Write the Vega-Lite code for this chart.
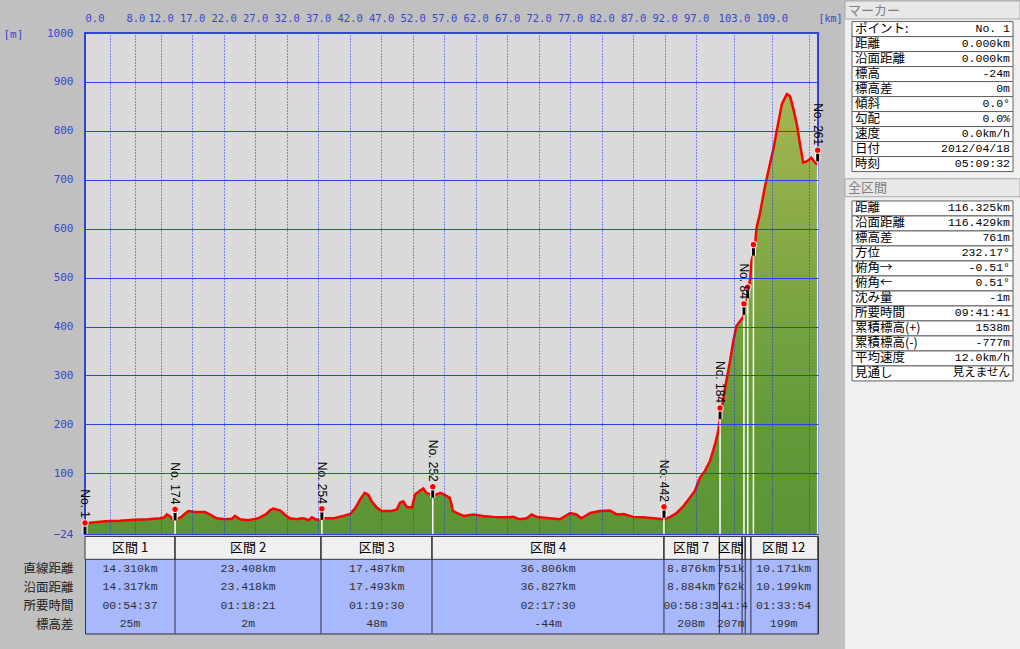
{
  "$schema": "https://vega.github.io/schema/vega-lite/v6.json",
  "background": "#c0c0c0",
  "padding": {"left": 2, "top": 0, "right": 0, "bottom": 0},
  "datasets": {
    "profile": [
      {"d":0,"e":-8},{"d":0.3,"e":-2},{"d":0.8,"e":-1},{"d":3.2,"e":2},{"d":5.5,"e":3},{"d":7.9,"e":5},{"d":10.0,"e":6},{"d":11.9,"e":8},{"d":12.6,"e":10},{"d":13.0,"e":16},{"d":13.5,"e":12},{"d":13.8,"e":8},{"d":14.3,"e":5},{"d":15.3,"e":11},{"d":15.9,"e":18},{"d":16.4,"e":23},{"d":17.5,"e":21},{"d":19.0,"e":21},{"d":19.8,"e":16},{"d":20.9,"e":8},{"d":22.2,"e":6},{"d":23.3,"e":7},{"d":23.8,"e":13},{"d":24.6,"e":6},{"d":25.9,"e":4},{"d":27.5,"e":8},{"d":28.8,"e":17},{"d":29.4,"e":25},{"d":29.9,"e":28},{"d":31.0,"e":24},{"d":31.7,"e":16},{"d":32.5,"e":8},{"d":33.6,"e":6},{"d":34.4,"e":8},{"d":35.0,"e":7},{"d":35.5,"e":4},{"d":36.0,"e":10},{"d":36.8,"e":5},{"d":37.8,"e":8},{"d":39.4,"e":8},{"d":41.0,"e":13},{"d":42.1,"e":17},{"d":42.9,"e":29},{"d":43.7,"e":47},{"d":44.4,"e":60},{"d":45.0,"e":56},{"d":45.5,"e":43},{"d":46.3,"e":30},{"d":47.1,"e":23},{"d":48.7,"e":23},{"d":49.5,"e":26},{"d":50.0,"e":40},{"d":50.5,"e":43},{"d":51.1,"e":31},{"d":51.9,"e":30},{"d":52.4,"e":57},{"d":53.2,"e":65},{"d":53.7,"e":69},{"d":54.2,"e":60},{"d":54.8,"e":57},{"d":55.2,"e":54},{"d":55.8,"e":57},{"d":56.4,"e":60},{"d":57.1,"e":56},{"d":57.9,"e":50},{"d":58.2,"e":35},{"d":58.4,"e":23},{"d":59.0,"e":19},{"d":60.1,"e":13},{"d":61.6,"e":16},{"d":63.2,"e":13},{"d":64.8,"e":11},{"d":66.4,"e":10},{"d":68.0,"e":11},{"d":69.0,"e":6},{"d":70.1,"e":8},{"d":70.9,"e":16},{"d":71.7,"e":11},{"d":73.8,"e":8},{"d":75.4,"e":6},{"d":77.0,"e":19},{"d":78.0,"e":16},{"d":78.8,"e":8},{"d":80.2,"e":19},{"d":81.7,"e":23},{"d":83.3,"e":24},{"d":84.4,"e":16},{"d":85.5,"e":17},{"d":87.0,"e":11},{"d":88.6,"e":10},{"d":90.2,"e":8},{"d":91.8,"e":6},{"d":92.9,"e":11},{"d":93.9,"e":19},{"d":95.0,"e":33},{"d":96.0,"e":50},{"d":96.8,"e":64},{"d":97.6,"e":91},{"d":98.4,"e":105},{"d":99.2,"e":125},{"d":100.0,"e":159},{"d":100.5,"e":186},{"d":100.8,"e":211},{"d":101.6,"e":275},{"d":102.4,"e":330},{"d":102.9,"e":370},{"d":103.4,"e":401},{"d":104.5,"e":420},{"d":105.0,"e":452},{"d":105.6,"e":500},{"d":105.8,"e":534},{"d":106.3,"e":561},{"d":106.6,"e":602},{"d":107.1,"e":629},{"d":107.9,"e":684},{"d":108.7,"e":731},{"d":109.3,"e":765},{"d":109.8,"e":800},{"d":110.6,"e":854},{"d":111.4,"e":875},{"d":111.9,"e":871},{"d":112.4,"e":847},{"d":113.0,"e":813},{"d":113.5,"e":772},{"d":114.0,"e":735},{"d":114.6,"e":738},{"d":115.3,"e":745},{"d":115.9,"e":735},{"d":116.3,"e":731}
    ],
    "markers": [
      {"d":0,"e":-24,"label":"No. 1"},
      {"d":14.3,"e":4,"label":"No. 174"},
      {"d":37.6,"e":5,"label":"No. 254"},
      {"d":55.2,"e":50,"label":"No. 252"},
      {"d":91.9,"e":9,"label":"No. 442"},
      {"d":100.8,"e":211,"label":"No. 184"},
      {"d":104.6,"e":424,"label":"No. 84"},
      {"d":105.2,"e":458,"label":""},
      {"d":106.1,"e":545,"label":""},
      {"d":116.3,"e":738,"label":"No. 261"}
    ],
    "sections": [
      {"x0":0,"x1":14.29},{"x0":14.29,"x1":37.46},{"x0":37.46,"x1":55.08},{"x0":55.08,"x1":91.9},{"x0":91.9,"x1":100.7},{"x0":100.7,"x1":104.3},{"x0":104.3,"x1":104.8},{"x0":104.8,"x1":105.7},{"x0":105.7,"x1":116.35}
    ],
    "rows": [
      {"row":"区間","y0":0,"y1":1.23,"yc":0.62},
      {"row":"直線距離","y0":1.23,"y1":2.23,"yc":1.73},
      {"row":"沿面距離","y0":2.23,"y1":3.23,"yc":2.73},
      {"row":"所要時間","y0":3.23,"y1":4.23,"yc":3.73},
      {"row":"標高差","y0":4.23,"y1":5.23,"yc":4.73}
    ],
    "cells": [
      {"x0":0,"x1":14.29,"xm":7.15,"row":"区間","t":"区間 1"},
      {"x0":0,"x1":14.29,"xm":7.15,"row":"直線距離","t":"14.310km"},
      {"x0":0,"x1":14.29,"xm":7.15,"row":"沿面距離","t":"14.317km"},
      {"x0":0,"x1":14.29,"xm":7.15,"row":"所要時間","t":"00:54:37"},
      {"x0":0,"x1":14.29,"xm":7.15,"row":"標高差","t":"25m"},
      {"x0":14.29,"x1":37.46,"xm":25.9,"row":"区間","t":"区間 2"},
      {"x0":14.29,"x1":37.46,"xm":25.9,"row":"直線距離","t":"23.408km"},
      {"x0":14.29,"x1":37.46,"xm":25.9,"row":"沿面距離","t":"23.418km"},
      {"x0":14.29,"x1":37.46,"xm":25.9,"row":"所要時間","t":"01:18:21"},
      {"x0":14.29,"x1":37.46,"xm":25.9,"row":"標高差","t":"2m"},
      {"x0":37.46,"x1":55.08,"xm":46.3,"row":"区間","t":"区間 3"},
      {"x0":37.46,"x1":55.08,"xm":46.3,"row":"直線距離","t":"17.487km"},
      {"x0":37.46,"x1":55.08,"xm":46.3,"row":"沿面距離","t":"17.493km"},
      {"x0":37.46,"x1":55.08,"xm":46.3,"row":"所要時間","t":"01:19:30"},
      {"x0":37.46,"x1":55.08,"xm":46.3,"row":"標高差","t":"48m"},
      {"x0":55.08,"x1":91.9,"xm":73.5,"row":"区間","t":"区間 4"},
      {"x0":55.08,"x1":91.9,"xm":73.5,"row":"直線距離","t":"36.806km"},
      {"x0":55.08,"x1":91.9,"xm":73.5,"row":"沿面距離","t":"36.827km"},
      {"x0":55.08,"x1":91.9,"xm":73.5,"row":"所要時間","t":"02:17:30"},
      {"x0":55.08,"x1":91.9,"xm":73.5,"row":"標高差","t":"-44m"},
      {"x0":91.9,"x1":100.7,"xm":96.2,"row":"区間","t":"区間 7"},
      {"x0":91.9,"x1":100.7,"xm":96.2,"row":"直線距離","t":"8.876km"},
      {"x0":91.9,"x1":100.7,"xm":96.2,"row":"沿面距離","t":"8.884km"},
      {"x0":91.9,"x1":100.7,"xm":96.2,"row":"所要時間","t":"00:58:35"},
      {"x0":91.9,"x1":100.7,"xm":96.2,"row":"標高差","t":"208m"},
      {"x0":100.7,"x1":104.3,"xm":102.5,"row":"区間","t":"区間"},
      {"x0":100.7,"x1":104.3,"xm":102.5,"row":"直線距離","t":"751k"},
      {"x0":100.7,"x1":104.3,"xm":102.5,"row":"沿面距離","t":"762k"},
      {"x0":100.7,"x1":104.3,"xm":102.5,"row":"所要時間","t":":41:4"},
      {"x0":100.7,"x1":104.3,"xm":102.5,"row":"標高差","t":"207m"},
      {"x0":104.3,"x1":104.8,"xm":104.55,"row":"区間","t":""},
      {"x0":104.8,"x1":105.7,"xm":105.25,"row":"区間","t":""},
      {"x0":105.7,"x1":116.35,"xm":110.9,"row":"区間","t":"区間 12"},
      {"x0":105.7,"x1":116.35,"xm":110.9,"row":"直線距離","t":"10.171km"},
      {"x0":105.7,"x1":116.35,"xm":110.9,"row":"沿面距離","t":"10.199km"},
      {"x0":105.7,"x1":116.35,"xm":110.9,"row":"所要時間","t":"01:33:54"},
      {"x0":105.7,"x1":116.35,"xm":110.9,"row":"標高差","t":"199m"}
    ],
    "bg": [
      {"y0":0,"y1":2.3}
    ],
    "bars": [
      {"y0":0,"y1":1.2,"yc":0.65,"t":"マーカー"},
      {"y0":11.85,"y1":13.05,"yc":12.48,"t":"全区間"}
    ],
    "panel": [
      {"xa":0.04,"xb":0.96,"y0":1.37,"y1":2.37,"yc":1.87,"k":"ポイント:","v":"No. 1"},
      {"xa":0.04,"xb":0.96,"y0":2.37,"y1":3.37,"yc":2.87,"k":"距離","v":"0.000km"},
      {"xa":0.04,"xb":0.96,"y0":3.37,"y1":4.37,"yc":3.87,"k":"沿面距離","v":"0.000km"},
      {"xa":0.04,"xb":0.96,"y0":4.37,"y1":5.37,"yc":4.87,"k":"標高","v":"-24m"},
      {"xa":0.04,"xb":0.96,"y0":5.37,"y1":6.37,"yc":5.87,"k":"標高差","v":"0m"},
      {"xa":0.04,"xb":0.96,"y0":6.37,"y1":7.37,"yc":6.87,"k":"傾斜","v":"0.0°"},
      {"xa":0.04,"xb":0.96,"y0":7.37,"y1":8.37,"yc":7.87,"k":"勾配","v":"0.0%"},
      {"xa":0.04,"xb":0.96,"y0":8.37,"y1":9.37,"yc":8.87,"k":"速度","v":"0.0km/h"},
      {"xa":0.04,"xb":0.96,"y0":9.37,"y1":10.37,"yc":9.87,"k":"日付","v":"2012/04/18"},
      {"xa":0.04,"xb":0.96,"y0":10.37,"y1":11.37,"yc":10.87,"k":"時刻","v":"05:09:32"},
      {"xa":0.04,"xb":0.96,"y0":13.33,"y1":14.33,"yc":13.83,"k":"距離","v":"116.325km"},
      {"xa":0.04,"xb":0.96,"y0":14.33,"y1":15.33,"yc":14.83,"k":"沿面距離","v":"116.429km"},
      {"xa":0.04,"xb":0.96,"y0":15.33,"y1":16.33,"yc":15.83,"k":"標高差","v":"761m"},
      {"xa":0.04,"xb":0.96,"y0":16.33,"y1":17.33,"yc":16.83,"k":"方位","v":"232.17°"},
      {"xa":0.04,"xb":0.96,"y0":17.33,"y1":18.33,"yc":17.83,"k":"俯角→","v":"-0.51°"},
      {"xa":0.04,"xb":0.96,"y0":18.33,"y1":19.33,"yc":18.83,"k":"俯角←","v":"0.51°"},
      {"xa":0.04,"xb":0.96,"y0":19.33,"y1":20.33,"yc":19.83,"k":"沈み量","v":"-1m"},
      {"xa":0.04,"xb":0.96,"y0":20.33,"y1":21.33,"yc":20.83,"k":"所要時間","v":"09:41:41"},
      {"xa":0.04,"xb":0.96,"y0":21.33,"y1":22.33,"yc":21.83,"k":"累積標高(+)","v":"1538m"},
      {"xa":0.04,"xb":0.96,"y0":22.33,"y1":23.33,"yc":22.83,"k":"累積標高(-)","v":"-777m"},
      {"xa":0.04,"xb":0.96,"y0":23.33,"y1":24.33,"yc":23.83,"k":"平均速度","v":"12.0km/h"},
      {"xa":0.04,"xb":0.96,"y0":24.33,"y1":25.33,"yc":24.83,"k":"見通し","v":"見えません"}
    ]
  },
  "spacing": 0,
  "hconcat": [
    {
      "spacing": 2.5,
      "bounds": "flush",
      "vconcat": [
        {
          "width": 733,
          "height": 501,
          "view": {"fill": "#dadada", "stroke": "#3344dd", "strokeWidth": 2},
          "resolve": {"axis": {"x": "independent"}},
          "layer": [
            {
              "data": {"name": "profile"},
              "mark": {"type": "area", "color": {"gradient": "linear", "x1": 0, "y1": 1, "x2": 0, "y2": 0, "stops": [{"offset": 0, "color": "#5b9533"}, {"offset": 0.25, "color": "#639a39"}, {"offset": 1, "color": "#a3b651"}]}},
              "encoding": {
                "x": {"field": "d", "type": "quantitative", "scale": {"domain": [0, 116.35], "nice": false, "zero": false},
                  "axis": {"orient": "top", "values": [0,8,17,27,37,47,57,67,77,87,97,109], "format": ".1f", "labelFontSize": 10.5,
                    "grid": true, "gridDash": [1, 2], "gridColor": "#1a30f0", "gridWidth": 1, "ticks": false, "domain": false,
                    "labelPadding": 10, "labelFlush": true, "labelOverlap": false, "labelBound": false,
                    "title": "[km]", "titleFontSize": 10, "titleX": 733, "titleY": -15, "titleAlign": "left", "titleBaseline": "middle", "titleAngle": 0, "zindex": 1}},
                "y": {"field": "e", "type": "quantitative", "stack": null, "scale": {"domain": [-24, 1000], "nice": false, "zero": false},
                  "axis": {"values": [-24,100,200,300,400,500,600,700,800,900,1000], "format": "d", "grid": true, "gridColor": "#2a44e4", "gridWidth": 1,
                    "ticks": false, "domain": false, "labelPadding": 12, "labelOverlap": false, "labelFlush": false,
                    "title": "[m]", "titleAngle": 0, "titleX": -82, "titleY": 1, "titleAlign": "left", "titleBaseline": "middle", "zindex": 1}},
                "y2": {"value": "height"}
              }
            },
            {
              "data": {"name": "profile"},
              "mark": {"type": "line", "color": "#ff0000", "strokeWidth": 2.5},
              "encoding": {
                "x": {"field": "d", "type": "quantitative",
                  "axis": {"orient": "top", "values": [4,12,22,32,42,52,62,72,82,92,103,115], "labelFontSize": 10.5,
                    "labelExpr": "datum.value == 4 || datum.value == 115 ? '' : format(datum.value, '.1f')",
                    "grid": true, "gridDash": [1, 2], "gridColor": "#1a30f0", "gridWidth": 1, "ticks": false, "domain": false,
                    "labelPadding": 10, "labelFlush": false, "labelOverlap": false, "labelBound": false, "title": null, "zindex": 1}},
                "y": {"field": "e", "type": "quantitative"}
              }
            },
            {
              "data": {"name": "markers"},
              "mark": {"type": "rule", "color": "#ffffff", "strokeWidth": 1.5},
              "encoding": {"x": {"field": "d", "type": "quantitative", "axis": null}, "y": {"field": "e", "type": "quantitative"}, "y2": {"value": "height"}}
            },
            {
              "data": {"name": "markers"},
              "mark": {"type": "rule", "color": "#ffffff", "strokeWidth": 5, "y2Offset": -10},
              "encoding": {"x": {"field": "d", "type": "quantitative", "axis": null}, "y": {"field": "e", "type": "quantitative"}, "y2": {"field": "e"}}
            },
            {
              "data": {"name": "markers"},
              "mark": {"type": "rule", "color": "#000000", "strokeWidth": 3, "y2Offset": -10},
              "encoding": {"x": {"field": "d", "type": "quantitative", "axis": null}, "y": {"field": "e", "type": "quantitative"}, "y2": {"field": "e"}}
            },
            {
              "data": {"name": "markers"},
              "mark": {"type": "point", "filled": true, "color": "#ff0000", "stroke": "#ffffff", "strokeWidth": 1, "size": 45, "opacity": 1, "yOffset": -11},
              "encoding": {"x": {"field": "d", "type": "quantitative", "axis": null}, "y": {"field": "e", "type": "quantitative"}}
            },
            {
              "data": {"name": "markers"},
              "mark": {"type": "text", "angle": 90, "align": "right", "baseline": "middle", "yOffset": -16, "font": "Liberation Sans", "fontSize": 12, "color": "#000000"},
              "encoding": {"x": {"field": "d", "type": "quantitative", "axis": null}, "y": {"field": "e", "type": "quantitative"}, "text": {"field": "label", "type": "nominal"}}
            }
          ]
        },
        {
          "width": 733,
          "height": 97,
          "view": {"fill": "#a8b8fc", "stroke": "#303040", "strokeWidth": 1},
          "resolve": {"axis": {"y": "independent"}},
          "layer": [
            {
              "data": {"name": "cells"},
              "transform": [
                {"filter": "datum.row == '区間'"},
                {"lookup": "row", "from": {"data": {"name": "rows"}, "key": "row", "fields": ["y0", "y1", "yc"]}}
              ],
              "mark": {"type": "rect", "fill": "#f0f0f0", "stroke": "#3a3a3a", "strokeWidth": 1},
              "encoding": {
                "x": {"field": "x0", "type": "quantitative", "scale": {"domain": [0, 116.35], "nice": false, "zero": false}, "axis": null},
                "x2": {"field": "x1"},
                "y": {"field": "y0", "type": "quantitative", "scale": {"domain": [0, 5.23], "reverse": true, "nice": false, "zero": false},
                  "axis": {"orient": "left", "values": [1.73, 3.73], "labelExpr": "datum.value < 2 ? '直線距離' : '所要時間'",
                    "grid": false, "ticks": false, "domain": false, "labelPadding": 12, "labelOverlap": false,
                    "labelFont": "Noto Sans CJK JP", "labelFontSize": 12.5, "labelColor": "#202020", "title": null}},
                "y2": {"field": "y1"}
              }
            },
            {
              "data": {"name": "sections"},
              "mark": {"type": "rule", "color": "#303040", "strokeWidth": 1},
              "encoding": {"x": {"field": "x1", "type": "quantitative"}}
            },
            {
              "data": {"name": "cells"},
              "transform": [
                {"filter": "datum.row == '区間'"},
                {"lookup": "row", "from": {"data": {"name": "rows"}, "key": "row", "fields": ["yc"]}}
              ],
              "mark": {"type": "text", "font": "Noto Sans CJK JP", "fontSize": 13, "color": "#000000", "baseline": "middle"},
              "encoding": {
                "x": {"field": "xm", "type": "quantitative"},
                "y": {"field": "yc", "type": "quantitative",
                  "axis": {"orient": "left", "values": [2.73, 4.73], "labelExpr": "datum.value < 3 ? '沿面距離' : '標高差'",
                    "grid": false, "ticks": false, "domain": false, "labelPadding": 12, "labelOverlap": false,
                    "labelFont": "Noto Sans CJK JP", "labelFontSize": 12.5, "labelColor": "#202020", "title": null}},
                "text": {"field": "t", "type": "nominal"}
              }
            },
            {
              "data": {"name": "cells"},
              "transform": [
                {"filter": "datum.row != '区間'"},
                {"lookup": "row", "from": {"data": {"name": "rows"}, "key": "row", "fields": ["yc"]}}
              ],
              "mark": {"type": "text", "font": "'Liberation Mono', 'Noto Sans CJK JP'", "fontSize": 11.5, "color": "#303030", "baseline": "middle"},
              "encoding": {"x": {"field": "xm", "type": "quantitative"}, "y": {"field": "yc", "type": "quantitative", "axis": null}, "text": {"field": "t", "type": "nominal"}}
            }
          ]
        }
      ]
    },
    {
      "width": 175,
      "height": 617,
      "view": {"fill": "#f0f0f0", "stroke": null},
      "layer": [
        {
          "data": {"name": "panel"},
          "mark": {"type": "rect", "fill": "#ffffff", "stroke": "#606060", "strokeWidth": 1},
          "encoding": {
            "x": {"field": "xa", "type": "quantitative", "scale": {"domain": [0, 1], "nice": false, "zero": false}, "axis": null},
            "x2": {"field": "xb"},
            "y": {"field": "y0", "type": "quantitative", "scale": {"domain": [2.1333, 43.2667], "reverse": true, "nice": false, "zero": false}, "axis": null},
            "y2": {"field": "y1"}
          }
        },
        {
          "data": {"name": "bg"},
          "mark": {"type": "rect", "fill": "#f0f0f0", "strokeWidth": 0},
          "encoding": {"x": {"value": 0}, "x2": {"value": "width"}, "y": {"field": "y0", "type": "quantitative"}, "y2": {"field": "y1"}}
        },
        {
          "data": {"name": "panel"},
          "transform": [{"filter": "datum.y0 < 2.3"}],
          "mark": {"type": "rect", "fill": "#ffffff", "stroke": "#606060", "strokeWidth": 1},
          "encoding": {"x": {"field": "xa", "type": "quantitative"}, "x2": {"field": "xb"}, "y": {"field": "y0", "type": "quantitative"}, "y2": {"field": "y1"}}
        },
        {
          "data": {"name": "bars"},
          "mark": {"type": "rect", "fill": "#e8e8e8", "stroke": "#a8a8a8", "strokeWidth": 1},
          "encoding": {"x": {"value": 0}, "x2": {"value": "width"}, "y": {"field": "y0", "type": "quantitative"}, "y2": {"field": "y1"}}
        },
        {
          "data": {"name": "bars"},
          "mark": {"type": "text", "align": "left", "baseline": "middle", "dx": 3, "font": "Noto Sans CJK JP", "fontSize": 13, "color": "#808080"},
          "encoding": {"x": {"value": 0}, "y": {"field": "yc", "type": "quantitative"}, "text": {"field": "t", "type": "nominal"}}
        },
        {
          "data": {"name": "panel"},
          "mark": {"type": "text", "align": "left", "baseline": "middle", "dx": 3, "font": "Noto Sans CJK JP", "fontSize": 12.5, "color": "#000000"},
          "encoding": {"x": {"field": "xa", "type": "quantitative"}, "y": {"field": "yc", "type": "quantitative"}, "text": {"field": "k", "type": "nominal"}}
        },
        {
          "data": {"name": "panel"},
          "mark": {"type": "text", "align": "right", "baseline": "middle", "dx": -3, "font": "'Liberation Mono', 'Noto Sans CJK JP'", "fontSize": 11.5, "color": "#000000"},
          "encoding": {"x": {"field": "xb", "type": "quantitative"}, "y": {"field": "yc", "type": "quantitative"}, "text": {"field": "v", "type": "nominal"}}
        }
      ]
    }
  ],
  "config": {
    "font": "Noto Sans CJK JP",
    "axis": {"labelFont": "DejaVu Sans Mono", "labelFontSize": 11, "labelColor": "#3846d0", "titleFont": "DejaVu Sans Mono", "titleFontSize": 11, "titleColor": "#3846d0", "titleFontWeight": "normal", "labelOverlap": false}
  }
}
